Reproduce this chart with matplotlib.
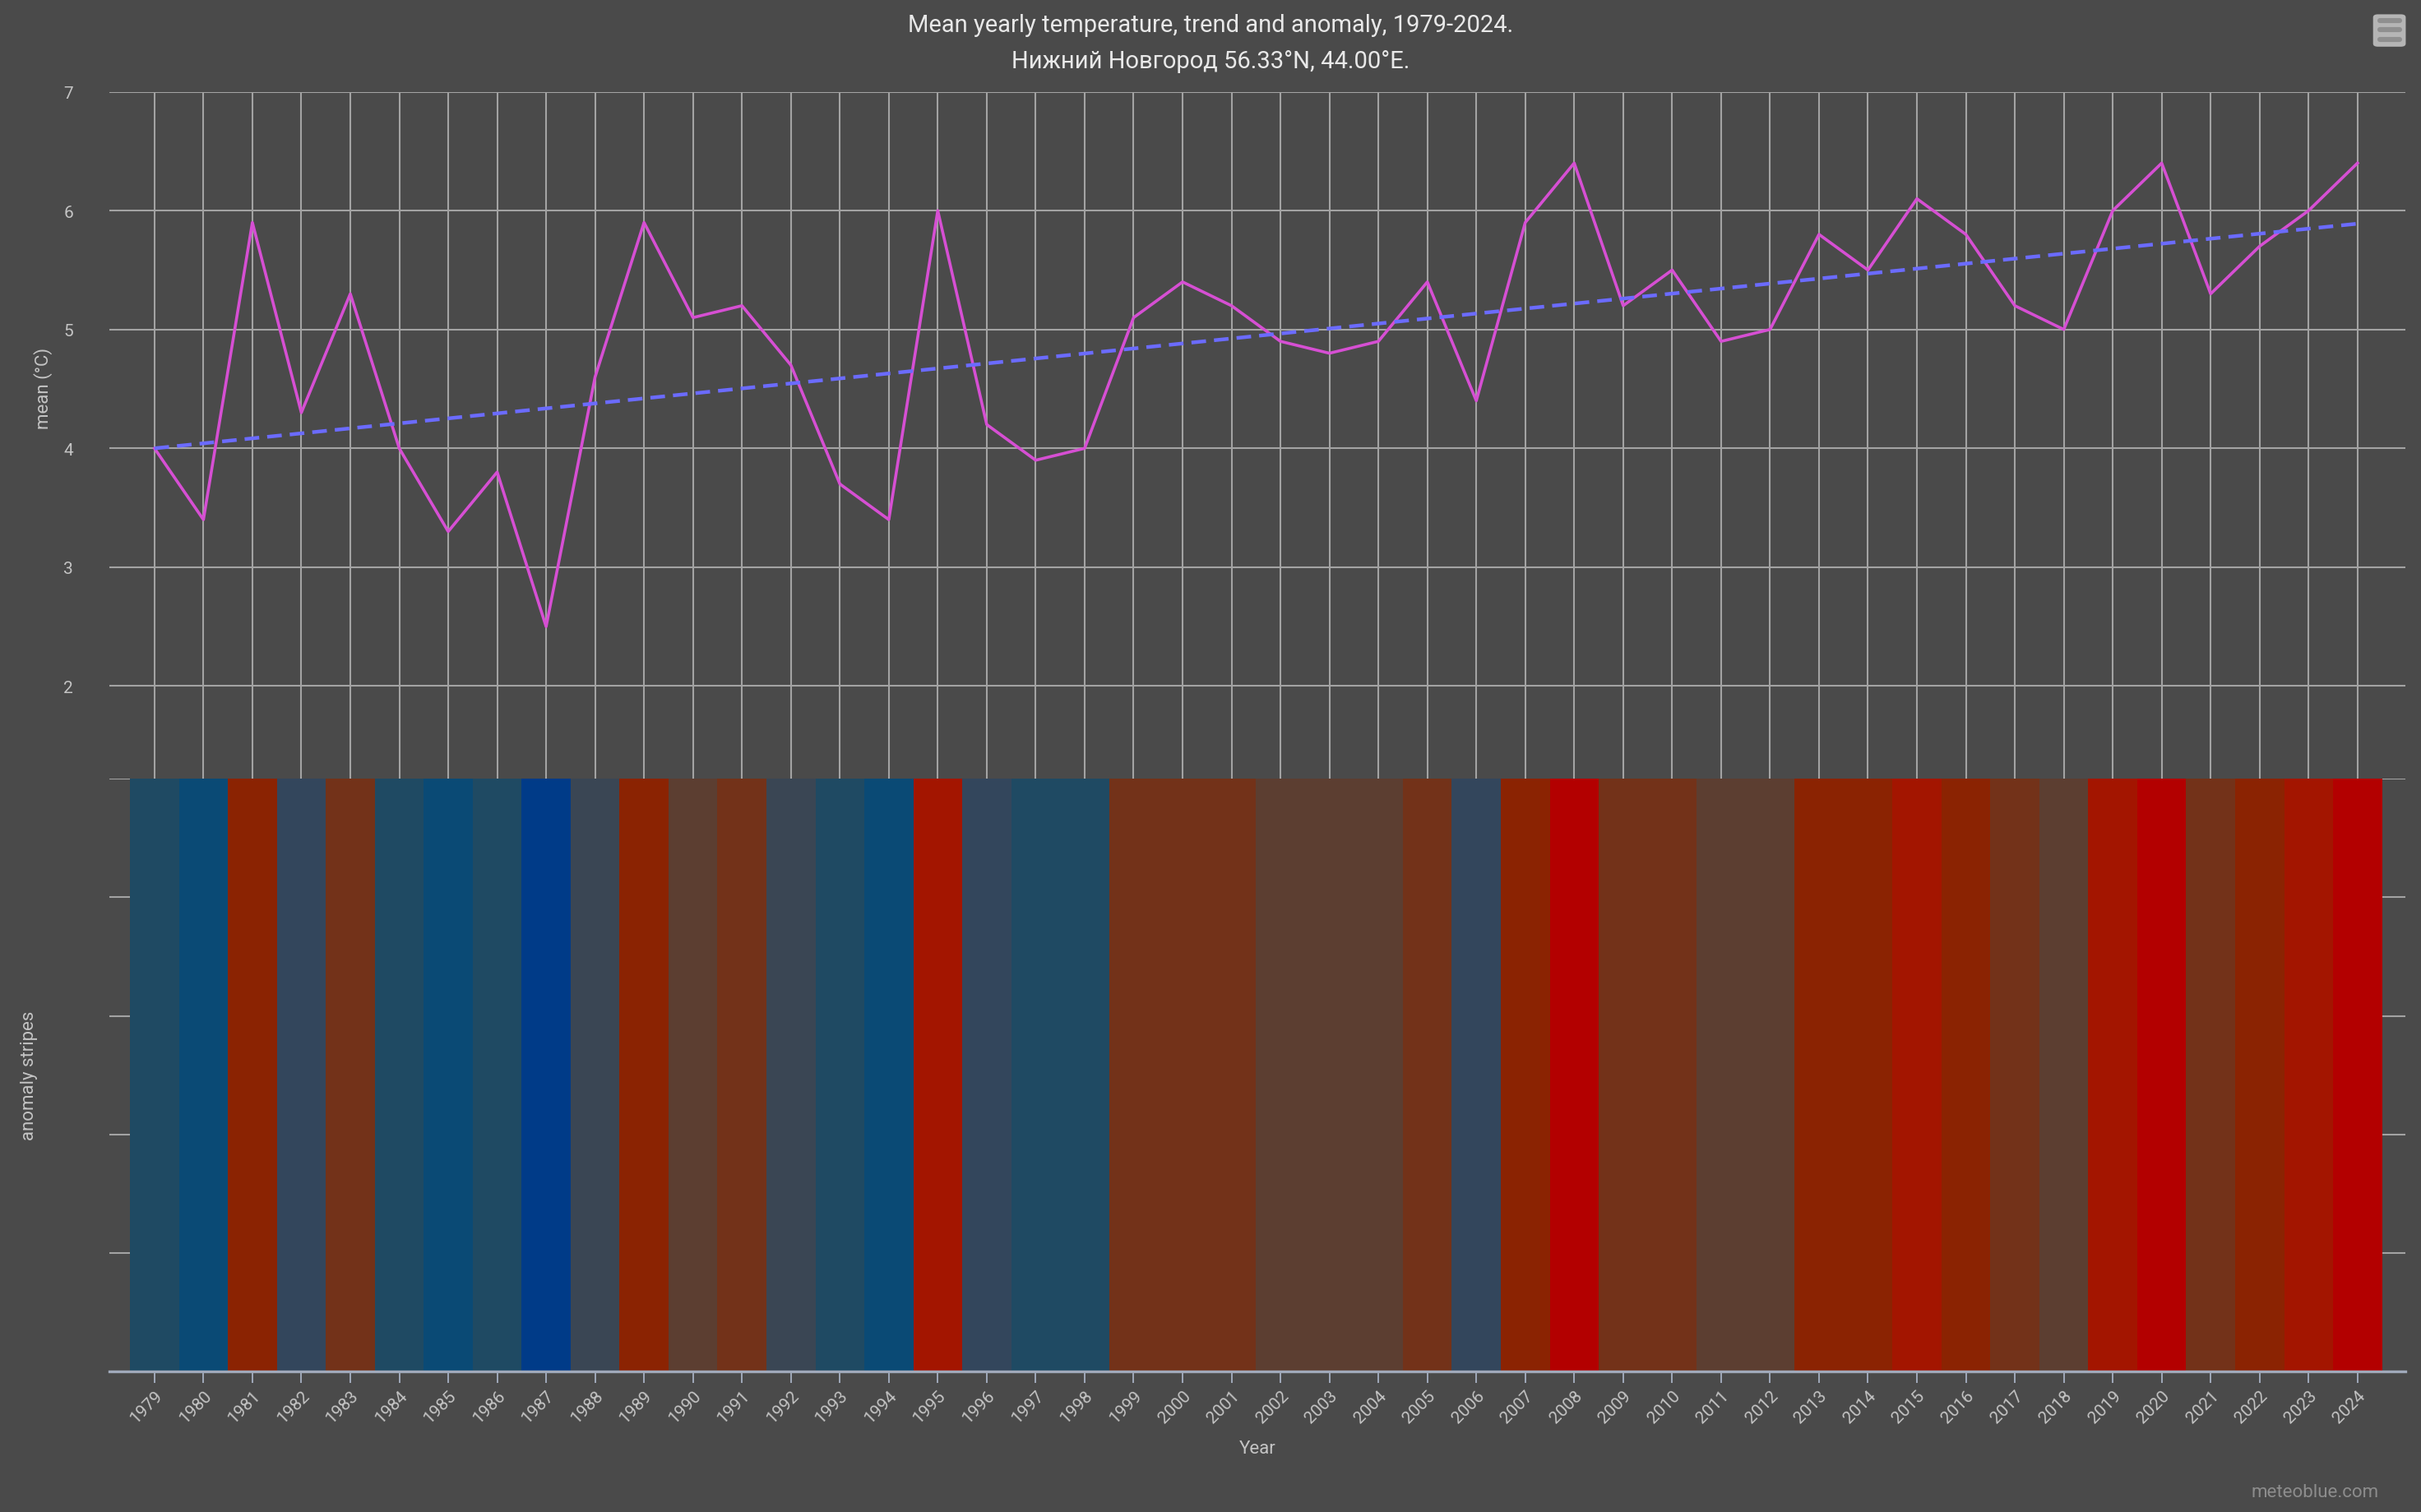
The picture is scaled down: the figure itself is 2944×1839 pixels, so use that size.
import numpy as np
import matplotlib
matplotlib.use('Agg')
import matplotlib.pyplot as plt
from matplotlib.patches import FancyBboxPatch

plt.rcParams['font.family'] = ['Roboto', 'DejaVu Sans']

# yearly mean temperature
years = np.arange(1979, 2025)
mean_temp = [4.0, 3.4, 5.9, 4.3, 5.3, 4.0, 3.3, 3.8, 2.5, 4.6,
             5.9, 5.1, 5.2, 4.7, 3.7, 3.4, 6.0, 4.2, 3.9, 4.0,
             5.1, 5.4, 5.2, 4.9, 4.8, 4.9, 5.4, 4.4, 5.9, 6.4,
             5.2, 5.5, 4.9, 5.0, 5.8, 5.5, 6.1, 5.8, 5.2, 5.0,
             6.0, 6.4, 5.3, 5.7, 6.0, 6.4]
trend_ends = [4.0, 5.89]   # trend at 1979 and 2024

# anomaly stripe classes (index into stripe palette)
stripe_palette = ['#003b88', '#0a4a75', '#1f4a63', '#33465c', '#3a4654',
                  '#5c3e31', '#733219', '#8b2302', '#a31500', '#b30000']
stripe_class = [2, 1, 7, 3, 6, 2, 1, 2, 0, 4,
                7, 5, 6, 4, 2, 1, 8, 3, 2, 2,
                6, 6, 6, 5, 5, 5, 6, 3, 7, 9,
                6, 6, 5, 5, 7, 7, 8, 7, 6, 5,
                8, 9, 6, 7, 8, 9]

bg = '#4a4a4a'
grid_c = '#a3a3a3'
txt_c = '#c4c4c4'

fig = plt.figure(figsize=(14.72, 9.2), dpi=200, facecolor=bg)
ax = fig.add_axes([0.0453, 0.4847, 0.9483, 0.4541], facecolor=bg)
ax2 = fig.add_axes([0.0453, 0.0929, 0.9483, 0.3918], facecolor=bg, sharex=ax)

xlo, xhi = 1978.085, 2024.98

# top panel: mean line and trend
ax.plot(years, mean_temp, color='#d64fd3', lw=1.3, zorder=3)
trend = np.interp(years, [years[0], years[-1]], trend_ends)
ax.plot(years, trend, color='#6b6bff', lw=1.6, dashes=(4, 2.2), zorder=4)

ax.set_xlim(xlo, xhi)
ax.set_ylim(1.22, 7)
ax.set_yticks([2, 3, 4, 5, 6, 7])
ax.set_xticks(years)
ax.grid(True, color=grid_c, lw=0.75)
ax.set_axisbelow(True)
for s in ax.spines.values():
    s.set_visible(False)
ax.tick_params(axis='y', length=0, pad=16, labelsize=7.5, labelcolor=txt_c)
ax.tick_params(axis='x', length=0, labelbottom=False)
ax.set_ylabel('mean (°C)', color=txt_c, fontsize=8, va='center')
ax.yaxis.set_label_coords(-0.0289, 0.569)

# bottom panel: anomaly stripes
colors = [stripe_palette[c] for c in stripe_class]
ax2.bar(years, 5, width=1.0, bottom=0, color=colors, zorder=3)
ax2.set_ylim(0, 5)
ax2.set_yticks([0, 1, 2, 3, 4, 5])
ax2.yaxis.grid(True, color=grid_c, lw=0.75)
ax2.set_axisbelow(True)
for s in ['top', 'left', 'right']:
    ax2.spines[s].set_visible(False)
ax2.spines['bottom'].set_color('#a0a9ba')
ax2.spines['bottom'].set_linewidth(1.2)
ax2.spines['bottom'].set_zorder(5)
ax2.tick_params(axis='y', length=0, labelleft=False)
ax2.tick_params(axis='x', length=5, width=0.7, color='#a0a9ba', labelsize=7.5,
                labelcolor=txt_c, pad=2)
ax2.set_xticks(years)
ax2.set_xticklabels([str(y) for y in years], rotation=45, ha='right',
                    va='top', rotation_mode='anchor')
ax2.set_xlim(xlo, xhi)
ax2.set_ylabel('anomaly stripes', color=txt_c, fontsize=8, va='center')
ax2.yaxis.set_label_coords(-0.035, 0.5)
ax2.set_xlabel('Year', color=txt_c, fontsize=8, labelpad=6)

# titles and credits
fig.text(0.5, 0.9830, 'Mean yearly temperature, trend and anomaly, 1979-2024.',
         ha='center', va='center', color='#e8e8e8', fontsize=10.5)
fig.text(0.5, 0.9595, 'Нижний Новгород 56.33°N, 44.00°E.',
         ha='center', va='center', color='#e8e8e8', fontsize=10.5)
fig.text(0.9825, 0.0133, 'meteoblue.com', ha='right', va='center',
         color='#8c8c8c', fontsize=8)

# menu button
btn = FancyBboxPatch((0.9802, 0.9686), 0.0135, 0.0214,
                     boxstyle='round,pad=0,rounding_size=0.002',
                     transform=fig.transFigure, facecolor='#b5b5b5',
                     edgecolor='none')
fig.patches.append(btn)
for yy in [0.9736, 0.9797, 0.9858]:
    fig.add_artist(plt.Line2D([0.9830, 0.9910], [yy, yy], color='#8f8f8f',
                              lw=2.2, solid_capstyle='round',
                              transform=fig.transFigure))

fig.savefig('out.png', dpi=200, facecolor=bg)
